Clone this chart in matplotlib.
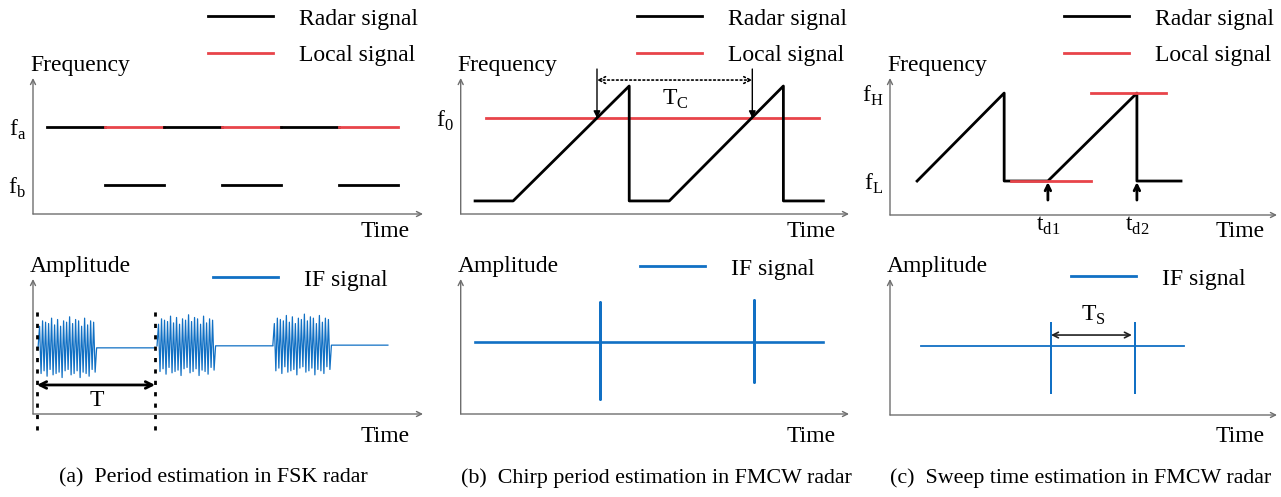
import numpy as np
import matplotlib.pyplot as plt
from matplotlib.lines import Line2D

plt.rcParams['font.family'] = ['Liberation Serif', 'DejaVu Serif']
plt.rcParams['mathtext.fontset'] = 'custom'
plt.rcParams['mathtext.rm'] = 'Liberation Serif'
plt.rcParams['font.size'] = 17

W, H = 1281, 497
BLACK = '#000000'
RED = '#e8444a'
BLUE = '#1170c4'
AXC = '#6e6e6e'

# ---------------- data (schematic units, axes span 0..10) ----------------
# (a) FSK: frequency hopping between fa and fb
fsk_edges = [0.35, 1.85, 3.35, 4.85, 6.35, 7.85, 9.35]
fsk_fa = 6.4
fsk_fb = 2.13
# IF bursts (start of each burst, flat end) and one burst shape
burst_start = [0.13, 3.18, 6.15]
flat_end = [3.1, 6.15, 9.1]
burst_center = [4.9, 5.05, 5.1]
burst_step = 0.0385
burst_amp = [0, 1.6, -1.9, 2.0, -1.7, 1.9, -2.1, 1.8, -1.6, 2.2, -2.0, 1.7,
             -1.9, 2.1, -1.8, 1.6, -2.2, 2.0, -1.7, 1.9, -1.6, 2.3, -2.0, 1.8,
             -1.9, 2.1, -1.7, 2.0, -2.2, 1.6, -1.8, 2.2, -1.9, 1.7, -2.1, 2.0,
             -1.6, 1.9, -1.8, 0]
fsk_T = [0.1, 3.13]

# (b) FMCW chirps with fixed local frequency f0
chirp_t = [0.37, 1.35, 4.34, 4.34, 5.37, 8.31, 8.31, 9.34]
chirp_f = [0.96, 0.96, 9.41, 0.96, 0.96, 9.41, 0.96, 0.96]
local_f0 = 7.06
local_t = [0.65, 9.23]
cross_t = [3.51, 7.51]
if_b_t = [0.37, 3.59, 3.59, 3.59, 3.59, 7.56, 7.56, 7.56, 7.56, 9.34]
if_b_a = [5.33, 5.33, 8.3, 1.11, 5.33, 5.33, 8.44, 2.37, 5.33, 5.33]

# (c) FMCW sweep with stepped local signal
sweep_t = [0.70, 2.95, 2.95, 4.08, 6.38, 6.38, 7.52]
sweep_f = [2.48, 8.9, 2.48, 2.48, 8.9, 2.48, 2.48]
fL, fH = 2.48, 8.9
local_low_t = [3.13, 5.19]
local_high_t = [5.19, 7.13]
td_t = [4.08, 6.38]
if_c_t = [0.8, 4.16, 4.16, 4.16, 4.16, 6.33, 6.33, 6.33, 6.33, 7.6]
if_c_a = [5.07, 5.07, 6.76, 1.62, 5.07, 5.07, 6.76, 1.62, 5.07, 5.07]

captions = ['(a)  Period estimation in FSK radar',
            '(b)  Chirp period estimation in FMCW radar',
            '(c)  Sweep time estimation in FMCW radar']

fig = plt.figure(figsize=(W / 100, H / 100), dpi=100)


def panel(ox, oy, xend, ytop, ylabel, time_y):
    ax = fig.add_axes([ox / W, 1 - oy / H, (xend - ox) / W, (oy - ytop) / H])
    ax.set_xlim(0, 10)
    ax.set_ylim(0, 10)
    ax.patch.set_alpha(0)
    for s in ax.spines.values():
        s.set_visible(False)
    ax.set_xticks([])
    ax.set_yticks([])
    ax.tick_params(length=0, pad=5, labelsize=17)
    for end in [(1, 0), (0, 1)]:
        ax.annotate('', xy=end, xytext=(0, 0), xycoords='axes fraction',
                    arrowprops=dict(arrowstyle='->', color=AXC, lw=1.0,
                                    mutation_scale=9, shrinkA=0, shrinkB=0))
    ax.text(-0.008, 1.09, ylabel, transform=ax.transAxes, ha='left', va='center')
    ax.text(0.967, time_y, 'Time', transform=ax.transAxes, ha='right', va='center')
    return ax


def add_legend(ax, handles, labels, x, y):
    ax.legend(handles, labels, loc='upper left', bbox_to_anchor=(x / W, 1 - y / H),
              bbox_transform=fig.transFigure, frameon=False, borderpad=0,
              borderaxespad=0, handlelength=2.75, handletextpad=1.1,
              labelspacing=0.63, fontsize=17)


radar_h = [Line2D([], [], color=BLACK, lw=2), Line2D([], [], color=RED, lw=2)]
radar_l = ['Radar signal', 'Local signal']
if_h = [Line2D([], [], color=BLUE, lw=2)]
if_l = ['IF signal']

# ---------- (a) top ----------
ax = panel(33, 214, 423, 78, 'Frequency', -0.13)
for i in range(6):
    t0, t1 = fsk_edges[i], fsk_edges[i + 1]
    if i % 2 == 0:
        ax.plot([t0, t1], [fsk_fa, fsk_fa], color=BLACK, lw=2)
    else:
        ax.plot([t0, t1], [fsk_fa, fsk_fa], color=RED, lw=2)
        ax.plot([t0, t1], [fsk_fb, fsk_fb], color=BLACK, lw=2)
ax.set_yticks([fsk_fa, fsk_fb], [r'f$_{\rm a}$', r'f$_{\rm b}$'])
add_legend(ax, radar_h, radar_l, 208, 8)

# ---------- (a) bottom ----------
ax = panel(33, 414, 423, 279, 'Amplitude', -0.163)
for s, e, c in zip(burst_start, flat_end, burst_center):
    t = s + burst_step * np.arange(len(burst_amp))
    ax.plot(np.append(t, e), np.append(c + np.array(burst_amp), c), color=BLUE, lw=0.9)
for tx in fsk_T:
    ax.plot([tx, tx], [-1.2, 7.8], color=BLACK, lw=2, ls=(0, (1.5, 2.6)), clip_on=False)
ax.annotate('', xy=(fsk_T[1], 2.15), xytext=(fsk_T[0], 2.15),
            arrowprops=dict(arrowstyle='<->', color=BLACK, lw=2, mutation_scale=12,
                            shrinkA=0, shrinkB=0))
ax.text(1.64, 1.0, 'T', ha='center', va='center')
add_legend(ax, if_h, if_l, 213, 269)

# ---------- (b) top ----------
ax = panel(460.7, 214, 849, 78, 'Frequency', -0.13)
ax.plot(local_t, [local_f0, local_f0], color=RED, lw=2)
ax.plot(chirp_t, chirp_f, color=BLACK, lw=2)
for tx in cross_t:
    ax.annotate('', xy=(tx, local_f0), xytext=(tx, 10.66), annotation_clip=False,
                arrowprops=dict(arrowstyle='-|>', color=BLACK, lw=1, mutation_scale=10,
                                shrinkA=0, shrinkB=0))
ax.annotate('', xy=(cross_t[1], 9.85), xytext=(cross_t[0], 9.85),
            arrowprops=dict(arrowstyle='<->', color=BLACK, lw=1.2, ls=':',
                            mutation_scale=12, shrinkA=0, shrinkB=0))
ax.text(5.52, 8.4, r'T$_{\rm C}$', ha='center', va='center')
ax.set_yticks([local_f0], [r'f$_{\rm 0}$'])
add_legend(ax, radar_h, radar_l, 637, 8)

# ---------- (b) bottom ----------
ax = panel(460.7, 414, 849, 279, 'Amplitude', -0.17)
ax.plot(if_b_t, if_b_a, color=BLUE, lw=1.9)
add_legend(ax, if_h, if_l, 640, 258)

# ---------- (c) top ----------
ax = panel(890, 215, 1277, 78, 'Frequency', -0.12)
ax.plot(sweep_t, sweep_f, color=BLACK, lw=2)
ax.plot(local_low_t, [fL, fL], color=RED, lw=2)
ax.plot(local_high_t, [fH, fH], color=RED, lw=2)
for tx, lab in zip(td_t, [r't$_{\rm d1}$', r't$_{\rm d2}$']):
    ax.annotate('', xy=(tx, 2.4), xytext=(tx, 1.09),
                arrowprops=dict(arrowstyle='->', color=BLACK, lw=2, mutation_scale=10,
                                shrinkA=0, shrinkB=0))
    ax.text(tx, -0.8, lab, ha='center', va='center')
ax.set_yticks([fH, fL], [r'f$_{\rm H}$', r'f$_{\rm L}$'])
add_legend(ax, radar_h, radar_l, 1064, 8)

# ---------- (c) bottom ----------
ax = panel(890, 415, 1277, 279, 'Amplitude', -0.16)
ax.plot(if_c_t, if_c_a, color=BLUE, lw=1.3)
ax.annotate('', xy=(td_t[0] + 2.17, 5.88), xytext=(4.16, 5.88),
            arrowprops=dict(arrowstyle='<->', color='#222222', lw=1.2, mutation_scale=10,
                            shrinkA=0, shrinkB=0))
ax.text(5.25, 7.35, r'T$_{\rm S}$', ha='center', va='center')
add_legend(ax, if_h, if_l, 1071, 268)

for cx, cap in zip([213, 656, 1081], captions):
    fig.text(cx / W, 1 - 478 / H, cap, ha='center', va='center', fontsize=15.8)

fig.savefig('out.png', dpi=100)
